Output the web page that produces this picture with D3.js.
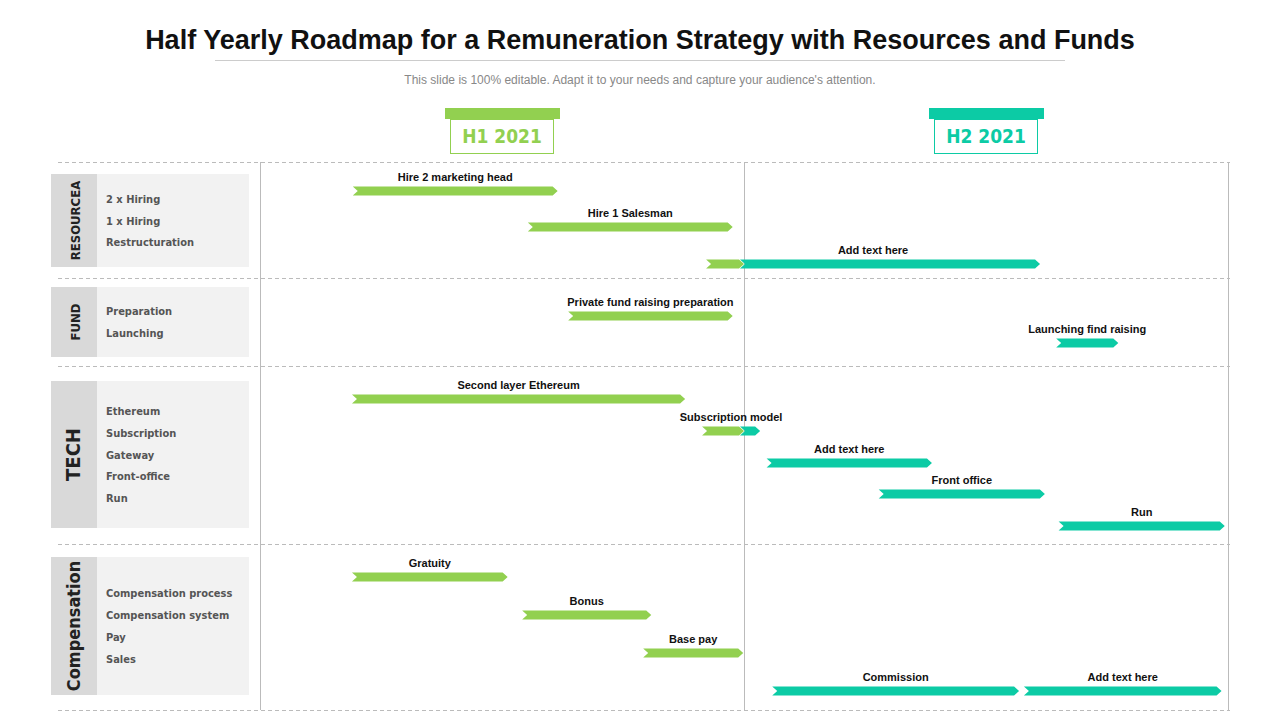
<!DOCTYPE html>
<html><head><meta charset="utf-8">
<script src="https://cdn.jsdelivr.net/npm/d3@7"></script>
<style>body{margin:0;background:#fff}svg{font-family:Arial,"Liberation Sans",sans-serif}</style>
</head><body>
<script>
// tasks in months from start of 2021 (0..12)
const taskNames = ["Hire 2 marketing head","Hire 1 Salesman","Add text here","Private fund raising preparation","Launching find raising","Second layer Ethereum","Subscription model","Add text here","Front office","Run","Gratuity","Bonus","Base pay","Commission","Add text here"];
const taskStart = [1.15,3.32,5.53,3.82,9.87,1.14,5.48,6.28,7.67,9.9,1.14,3.25,4.75,6.35,9.47];
const taskEnd   = [3.69,5.86,9.67,5.86,10.64,5.27,6.2,8.33,9.73,11.96,3.07,4.85,5.99,9.41,11.92];
const taskRow   = [0,1,2,3,4,5,6,7,8,9,10,11,12,13,14];
const labelAnchor = [null,null,null,null,null,null,null,null,null,null,null,null,null,null,null];
const rowY = [191,227,264,316,343,399,431,463,494,526,577,615,653,691];
const fixRow = [0,1,2,3,4,5,6,7,8,9,10,11,12,13,13];

const sections = ["RESOURCEA","FUND","TECH","Compensation"];
const sectionItems = [["2 x Hiring","1 x Hiring","Restructuration"],["Preparation","Launching"],["Ethereum","Subscription","Gateway","Front-office","Run"],["Compensation process","Compensation system","Pay","Sales"]];
const sectionBox = [[174,267],[287,357],[381,528],[557,695]];
const dividers = [162,278,366,544,710];
const halves = ["H1 2021","H2 2021"];

const green="#92d050", teal="#0ccba5";
const svg=d3.select("body").append("svg").attr("width",1280).attr("height",720);
const x=d3.scaleLinear().domain([0,12]).range([260,1228]);

svg.append("text").attr("x",640).attr("y",49).attr("text-anchor","middle").attr("font-size",27).attr("font-weight","bold").attr("fill","#111").text("Half Yearly Roadmap for a Remuneration Strategy with Resources and Funds");
svg.append("line").attr("x1",215).attr("x2",1065).attr("y1",60.5).attr("y2",60.5).attr("stroke","#ccc");
svg.append("text").attr("x",640).attr("y",84).attr("text-anchor","middle").attr("font-size",12).attr("fill","#888").text("This slide is 100% editable. Adapt it to your needs and capture your audience's attention.");

// half headers
halves.forEach((h,i)=>{
  const cx=x(i*6+3), col=i?teal:green;
  svg.append("rect").attr("x",cx-57).attr("y",108).attr("width",115).attr("height",11).attr("fill",col);
  svg.append("rect").attr("x",cx-51.5).attr("y",119.5).attr("width",103).attr("height",34).attr("fill","#fff").attr("stroke",col);
  svg.append("text").attr("x",cx).attr("y",143).attr("text-anchor","middle").attr("font-size",19).attr("font-weight","bold").attr("font-stretch","condensed").attr("font-family","'DejaVu Sans Condensed','Liberation Sans Narrow',Arial").attr("fill",col).text(h);
});

dividers.forEach(y=>svg.append("line").attr("x1",58).attr("x2",1230).attr("y1",y+.5).attr("y2",y+.5).attr("stroke","#bbb").attr("stroke-dasharray","4,3"));
[0,6,12].forEach(m=>svg.append("line").attr("x1",Math.round(x(m))+.5).attr("x2",Math.round(x(m))+.5).attr("y1",162).attr("y2",710).attr("stroke","#bbb"));

// left panels
sections.forEach((s,i)=>{
  const [y0,y1]=sectionBox[i];
  svg.append("rect").attr("x",51).attr("y",y0).attr("width",198).attr("height",y1-y0).attr("fill","#f2f2f2");
  svg.append("rect").attr("x",51).attr("y",y0).attr("width",46).attr("height",y1-y0).attr("fill","#d9d9d9");
  const cy=(y0+y1)/2, big=s.length<5||s==="Compensation";
  svg.append("text").attr("transform",`translate(80,${cy}) rotate(-90)`).attr("text-anchor","middle")
    .attr("font-size",s==="TECH"?20:(s==="Compensation"?18:13)).attr("font-weight","bold").attr("font-family","'DejaVu Sans Condensed','Liberation Sans Narrow',Arial").attr("fill","#222").text(s);
  const items=sectionItems[i], n=items.length;
  items.forEach((t,j)=>svg.append("text").attr("x",106).attr("y",cy+(j-(n-1)/2)*21.7+4).attr("font-size",11).attr("font-weight","bold").attr("font-family","'DejaVu Sans Condensed','Liberation Sans Narrow',Arial").attr("fill","#555").text(t));
});

function chevron(a,b,y,col){
  const h=4.5,p=5;
  svg.append("path").attr("d",`M${a},${y-h}L${b-p},${y-h}L${b},${y}L${b-p},${y+h}L${a},${y+h}L${a+p},${y}Z`).attr("fill",col);
}
taskNames.forEach((t,i)=>{
  const s=taskStart[i], e=taskEnd[i], y=rowY[fixRow[i]];
  if(s<6&&e>6){ chevron(x(6)-4,x(e),y,teal); chevron(x(s),x(6),y,green); }
  else chevron(x(s),x(e),y,e<=6.01?green:teal);
  svg.append("text").attr("x",(x(s)+x(e))/2).attr("y",y-10).attr("text-anchor","middle").attr("font-size",11).attr("font-weight","bold").attr("fill","#111").text(t);
});
</script>
</body></html>
